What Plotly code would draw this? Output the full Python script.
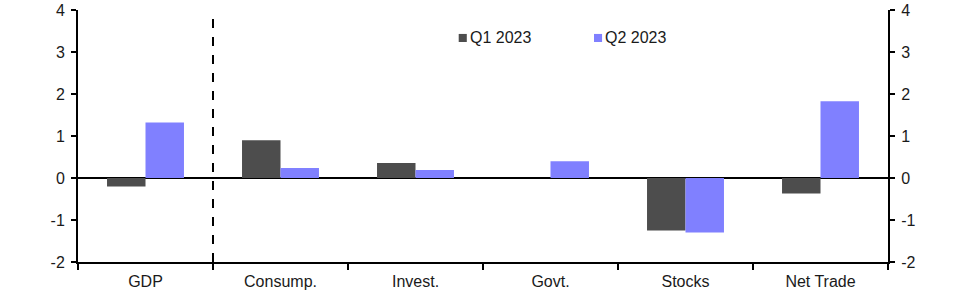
import plotly.graph_objects as go

categories = ["GDP", "Consump.", "Invest.", "Govt.", "Stocks", "Net Trade"]
q1_2023 = [-0.2, 0.9, 0.36, 0.0, -1.25, -0.37]
q2_2023 = [1.32, 0.24, 0.19, 0.4, -1.3, 1.83]
series_names = ["Q1 2023", "Q2 2023"]
colors = ["#4d4d4d", "#8080ff"]
y_ticks = [-2, -1, 0, 1, 2, 3, 4]
y_tick_labels = ["-2", "-1", "0", "1", "2", "3", "4"]

FONT = dict(family="Liberation Sans, Arial, sans-serif", size=16, color="#1a1a1a")

fig = go.Figure()
for name, vals, col in zip(series_names, [q1_2023, q2_2023], colors):
    fig.add_trace(go.Bar(x=categories, y=vals, name=name, marker_color=col,
                         marker_line_width=0, showlegend=False))
# invisible trace to activate the right axis
fig.add_trace(go.Scatter(x=categories, y=[None]*len(categories), yaxis="y2",
                         showlegend=False, hoverinfo="skip"))

# vertical dashed separator between GDP and components
fig.add_shape(type="line", xref="x", yref="y", x0=0.5, x1=0.5, y0=-2, y1=4,
              line=dict(color="black", width=2, dash="dash"))

# custom legend
leg_sq = [(0.470, 0.480), (0.637, 0.647)]
leg_tx = [0.484, 0.651]
for name, col, (sx0, sx1), tx in zip(series_names, colors, leg_sq, leg_tx):
    fig.add_shape(type="rect", xref="paper", yref="paper",
                  x0=sx0, x1=sx1, y0=0.873, y1=0.905,
                  fillcolor=col, line_width=0)
    fig.add_annotation(x=tx, y=0.889, xref="paper", yref="paper", text=name,
                       showarrow=False, xanchor="left", yanchor="middle",
                       font=FONT, xshift=-2)

axis_common = dict(range=[-2, 4], tickvals=y_ticks, ticktext=y_tick_labels,
                   ticks="outside", ticklen=5,
                   tickwidth=2, tickcolor="black", showgrid=False,
                   showline=True, linewidth=2, linecolor="black",
                   tickfont=FONT, automargin=False, ticklabelstandoff=3)

fig.update_layout(
    width=966, height=294,
    margin=dict(l=78, r=78, t=10, b=32),
    paper_bgcolor="white", plot_bgcolor="white",
    barmode="group", bargap=0.43, bargroupgap=0,
    xaxis=dict(type="category", range=[-0.5, 5.5], tickson="boundaries",
               ticks="outside", ticklen=6, tickwidth=2, tickcolor="black",
               showline=True, linewidth=2, linecolor="black", showgrid=False,
               tickfont=FONT, automargin=False, ticklabelstandoff=4),
    yaxis=dict(**axis_common, zeroline=True, zerolinecolor="black",
               zerolinewidth=2),
    yaxis2=dict(**axis_common, overlaying="y", side="right", zeroline=False),
    font=FONT,
)

fig.write_html("out.html")
